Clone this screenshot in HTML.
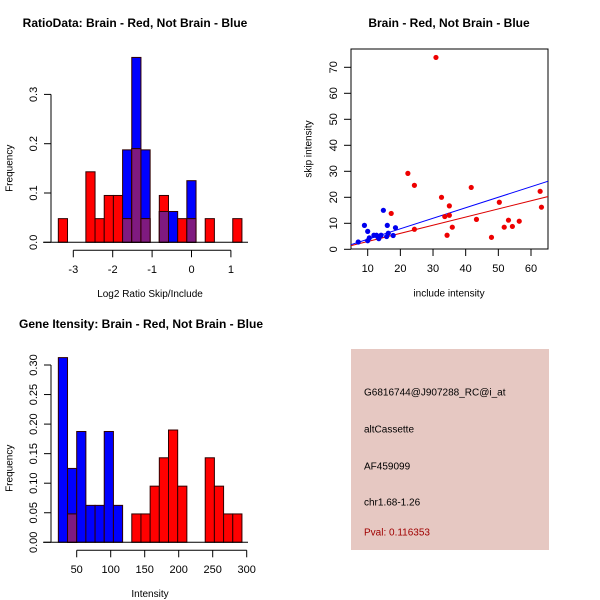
<!DOCTYPE html>
<html><head><meta charset="utf-8"><style>
body{margin:0;background:#fff}
svg{display:block;font-family:"Liberation Sans",sans-serif}
text{fill:#000}
</style></head><body>
<svg id="svg" width="600" height="600" viewBox="0 0 600 600"></svg>
<script>
// ---- Data ----
const ratioBinStart = -3.38;
const ratioBinWidth = 0.233;
const ratioRed = [0.048,0,0,0.143,0.048,0.095,0.095,0.048,0.19,0.048,0,0.095,0,0.048,0.048,0,0.048,0,0,0.048];
const ratioBlue = [0,0,0,0,0,0,0,0.1875,0.375,0.1875,0,0.0625,0.0625,0,0.125,0,0,0,0,0];
const ratioXTicks = [-3,-2,-1,0,1];
const ratioYTicks = [0,0.1,0.2,0.3];
const ratioYLabels = ["0.0","0.1","0.2","0.3"];

const redInclude = [30.9,22.3,24.3,17.2,24.3,32.6,41.7,35,33.6,35,34.3,35.9,43.3,47.9,50.3,51.8,53.1,54.3,56.4,62.8,63.2];
const redSkip = [73.8,29.2,24.6,13.8,7.7,20,23.8,16.7,12.6,13.1,5.4,8.5,11.5,4.6,18.1,8.5,11.2,8.8,10.8,22.3,16.2];
const blueInclude = [7.1,9,10,10,10.5,11.9,12.7,13.4,14.1,14.8,16,16.3,15.8,17.8,18.5,13];
const blueSkip = [2.8,9.2,6.9,3.3,4.4,5.4,5.4,4.1,5.4,15,9.2,6.2,4.9,5.3,8.3,4.9];
const blueFit = [-0.18,0.404]; // intercept, slope
const redFit = [-0.13,0.313];
const scatXTicks = [10,20,30,40,50,60];
const scatYTicks = [0,10,20,30,40,50,60,70];

const geneBinStart = 23;
const geneBinWidth = 13.5;
const geneRed = [0,0.048,0,0,0,0,0,0,0.048,0.048,0.095,0.143,0.19,0.095,0,0,0.143,0.095,0.048,0.048];
const geneBlue = [0.3125,0.125,0.1875,0.0625,0.0625,0.1875,0.0625,0,0,0,0,0,0,0,0,0,0,0,0,0];
const geneXTicks = [50,100,150,200,250,300];
const geneYTicks = [0,0.05,0.1,0.15,0.2,0.25,0.3];
const geneYLabels = ["0.00","0.05","0.10","0.15","0.20","0.25","0.30"];

const infoLines = ["G6816744@J907288_RC@i_at","altCassette","AF459099","chr1.68-1.26"];
const pvalText = "Pval: 0.116353";

// ---- Drawing ----
const svg = document.getElementById('svg');
const NS = 'http://www.w3.org/2000/svg';
function mk(tag, attrs, parent){
  const e = document.createElementNS(NS, tag);
  for (const k in attrs) e.setAttribute(k, attrs[k]);
  (parent||svg).appendChild(e);
  return e;
}
function txt(x,y,s,size,parent,extra){
  const t = mk('text',Object.assign({x:x,y:y,'font-size':size,'text-anchor':'middle','dominant-baseline':'middle'},extra||{}),parent);
  t.textContent = s;
  return t;
}

function histogram(name, o){
  const g = mk('g',{});
  
  
  const xs = v => o.x0 + (v - o.xv0)*o.xs;
  const ys = v => o.y0 - v*o.ys;
  for (let i=0;i<o.red.length;i++){
    const a = xs(o.start + i*o.width), b = xs(o.start + (i+1)*o.width);
    const r = o.red[i], bl = o.blue[i];
    if (bl>0){
      const e = mk('rect',{x:a,y:ys(bl),width:b-a,height:ys(0)-ys(bl),fill:'#0000ff',stroke:'#300000','stroke-width':1},g);
      
      
    }
    if (r>0){
      const e = mk('rect',{x:a,y:ys(r),width:b-a,height:ys(0)-ys(r),fill:'#ff0000',stroke:'#300000','stroke-width':1},g);
      
      
    }
    const m = Math.min(r,bl);
    if (m>0){
      const e = mk('rect',{x:a,y:ys(m),width:b-a,height:ys(0)-ys(m),fill:'#7f1a80',stroke:'#300000','stroke-width':1},g);
      
      
    }
  }
  mk('line',{x1:43,x2:248,y1:o.y0,y2:o.y0,stroke:'#000'},g);
  // y axis
  const yt = o.yTicks;
  mk('line',{x1:51,x2:51,y1:ys(yt[0]),y2:ys(yt[yt.length-1]),stroke:'#000'},g);
  yt.forEach((v,i)=>{
    mk('line',{x1:44,x2:51,y1:ys(v),y2:ys(v),stroke:'#000'},g);
    const t = txt(34,ys(v),o.yLabels[i],11,g,{transform:`rotate(-90 34 ${ys(v)})`});
    
    
  });
  // x axis
  const xt = o.xTicks, ay = o.y0+8;
  mk('line',{x1:xs(xt[0]),x2:xs(xt[xt.length-1]),y1:ay,y2:ay,stroke:'#000'},g);
  xt.forEach(v=>{
    mk('line',{x1:xs(v),x2:xs(v),y1:ay,y2:ay+7,stroke:'#000'},g);
    const t = txt(xs(v),ay+20,String(v),11,g);
    
    
  });
  const yl = txt(10,o.y0-74,'Frequency',10,g,{transform:`rotate(-90 10 ${o.y0-74})`});
  
  
  const xl = txt(150,o.y0+52,o.xlabel,10,g);
  
  
  const tt = txt(o.tx,o.ty,o.title,12,g,{'font-weight':'bold'});
  
  
}

histogram('ratio-histogram',{x0:73.3,xv0:-3,xs:39.4,y0:242.3,ys:493,start:ratioBinStart,width:ratioBinWidth,
  red:ratioRed,blue:ratioBlue,xTicks:ratioXTicks,yTicks:ratioYTicks,yLabels:ratioYLabels,
  xlabel:'Log2 Ratio Skip/Include',title:'RatioData: Brain - Red, Not Brain - Blue',tx:135,ty:24});
histogram('gene-intensity-histogram',{x0:76.7,xv0:50,xs:0.68,y0:542.3,ys:591,start:geneBinStart,width:geneBinWidth,
  red:geneRed,blue:geneBlue,xTicks:geneXTicks,yTicks:geneYTicks,yLabels:geneYLabels,
  xlabel:'Intensity',title:'Gene Itensity: Brain - Red, Not Brain - Blue',tx:141,ty:325});

// ---- Scatter ----
(function(){
  const g = mk('g',{});
  
  
  const xs = v => 367.7 + (v-10)*3.266;
  const ys = v => 249.3 - v*2.6;
  const L=351,R=548,T=49,B=249;
  const clip = mk('clipPath',{id:'cp'},g);
  mk('rect',{x:L,y:T,width:R-L,height:B-T},clip);
  mk('rect',{x:L,y:T,width:R-L,height:B-T,fill:'none',stroke:'#000'},g);
  scatXTicks.forEach(v=>{
    mk('line',{x1:xs(v),x2:xs(v),y1:B,y2:B+7,stroke:'#000'},g);
    const t = txt(xs(v),B+20,String(v),11,g);
    
    
  });
  scatYTicks.forEach(v=>{
    mk('line',{x1:L-7,x2:L,y1:ys(v),y2:ys(v),stroke:'#000'},g);
    const t = txt(334,ys(v),String(v),11,g,{transform:`rotate(-90 334 ${ys(v)})`});
    
    
  });
  const lx0=4.9,lx1=65.3;
  const bl = mk('line',{x1:xs(lx0),y1:ys(blueFit[0]+blueFit[1]*lx0),x2:xs(lx1),y2:ys(blueFit[0]+blueFit[1]*lx1),stroke:'#0000ff','clip-path':'url(#cp)'},g);
  
  
  const rl = mk('line',{x1:xs(lx0),y1:ys(redFit[0]+redFit[1]*lx0),x2:xs(lx1),y2:ys(redFit[0]+redFit[1]*lx1),stroke:'#dd0000','clip-path':'url(#cp)'},g);
  
  
  redInclude.forEach((v,i)=>{
    const c = mk('circle',{cx:xs(v),cy:ys(redSkip[i]),r:2.6,fill:'#ee0000'},g);
    
    
  });
  blueInclude.forEach((v,i)=>{
    const c = mk('circle',{cx:xs(v),cy:ys(blueSkip[i]),r:2.6,fill:'#0000ee'},g);
    
    
  });
  const xl = txt(449,294,'include intensity',10,g);
  
  
  const yl = txt(309,149,'skip intensity',10,g,{transform:'rotate(-90 309 149)'});
  
  
  const tt = txt(449,24,'Brain - Red, Not Brain - Blue',12,g,{'font-weight':'bold'});
  
  
})();

// ---- Info box ----
(function(){
  const g = mk('g',{});
  
  
  mk('rect',{x:351,y:349,width:198,height:201,fill:'#e6c8c2'},g);
  const ys=[393,430,467,503];
  infoLines.forEach((s,i)=>{
    const t = txt(364,ys[i],s,10,g,{'text-anchor':'start'});
    
    
  });
  const p = txt(364,533,pvalText,10,g,{'text-anchor':'start',style:'fill:#a00000'});
  
  
})();
</script>
</body></html>
